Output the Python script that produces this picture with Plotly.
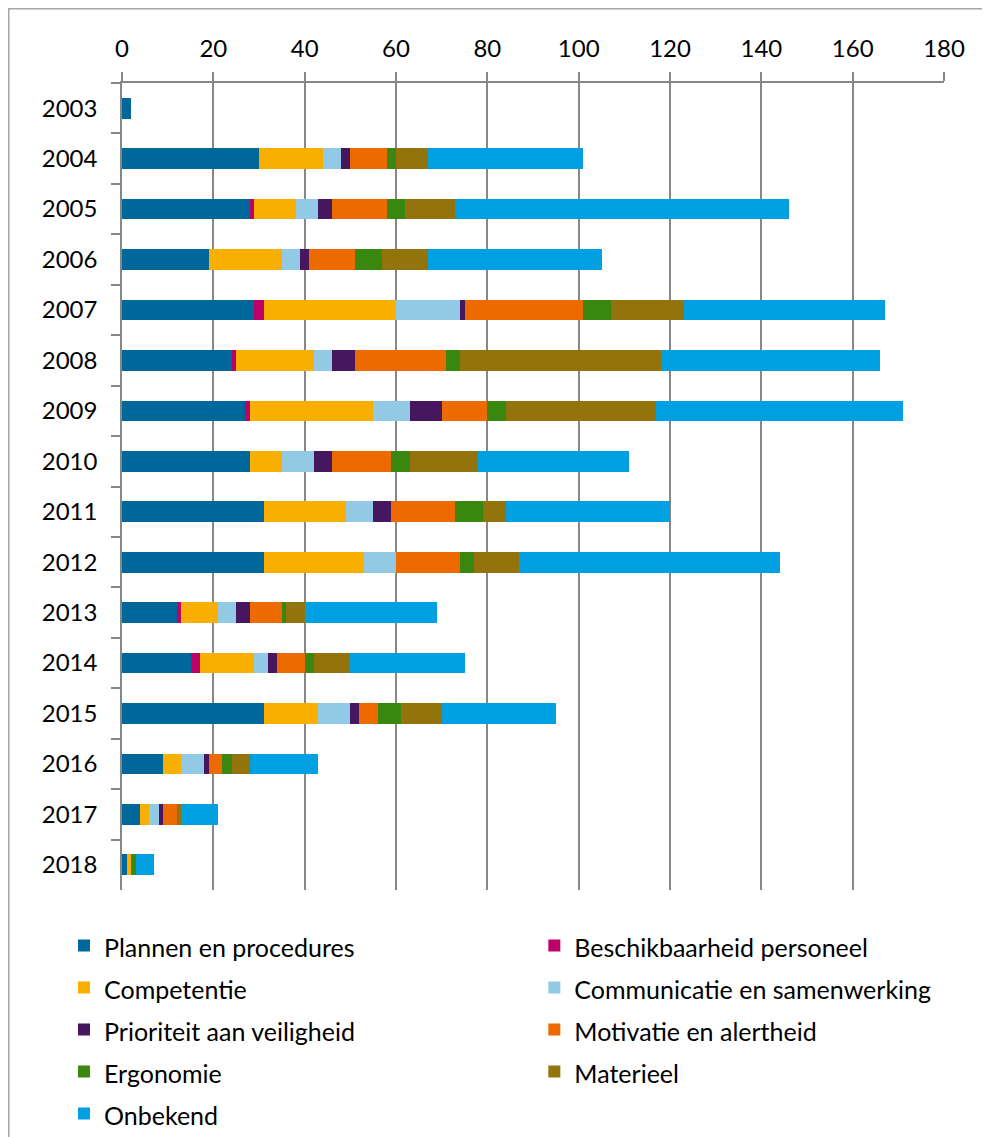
import plotly.graph_objects as go

years = [str(y) for y in range(2003, 2019)]

plannen = [2, 30, 28, 19, 29, 24, 27, 28, 31, 31, 12, 15, 31, 9, 4, 1]
beschikbaarheid = [0, 0, 1, 0, 2, 1, 1, 0, 0, 0, 1, 2, 0, 0, 0, 0]
competentie = [0, 14, 9, 16, 29, 17, 27, 7, 18, 22, 8, 12, 12, 4, 2, 1]
communicatie = [0, 4, 5, 4, 14, 4, 8, 7, 6, 7, 4, 3, 7, 5, 2, 0]
prioriteit = [0, 2, 3, 2, 1, 5, 7, 4, 4, 0, 3, 2, 2, 1, 1, 0]
motivatie = [0, 8, 12, 10, 26, 20, 10, 13, 14, 14, 7, 6, 4, 3, 3, 0]
ergonomie = [0, 2, 4, 6, 6, 3, 4, 4, 6, 3, 1, 2, 5, 2, 0, 1]
materieel = [0, 7, 11, 10, 16, 44, 33, 15, 5, 10, 4, 8, 9, 4, 1, 0]
onbekend = [0, 34, 73, 38, 44, 48, 54, 33, 36, 57, 29, 25, 25, 15, 8, 4]

x_ticks = [0, 20, 40, 60, 80, 100, 120, 140, 160, 180]

series = [
    ("Plannen en procedures", plannen, "#00679A"),
    ("Beschikbaarheid personeel", beschikbaarheid, "#BE0069"),
    ("Competentie", competentie, "#F9AF00"),
    ("Communicatie en samenwerking", communicatie, "#92CAE6"),
    ("Prioriteit aan veiligheid", prioriteit, "#46175E"),
    ("Motivatie en alertheid", motivatie, "#EC6A00"),
    ("Ergonomie", ergonomie, "#3A870F"),
    ("Materieel", materieel, "#93730C"),
    ("Onbekend", onbekend, "#00A0E2"),
]

FONT = "Lato"
OFF = 8  # page body margin offset
W, H = 990, 1137
L = 122 - OFF
T = 83 - OFF
R = W - (944 - OFF)
B = H - (890.5 - OFF)
pw = W - L - R
ph = H - T - B

fig = go.Figure()
for name, vals, col in series:
    fig.add_trace(go.Bar(
        y=years, x=vals, orientation="h",
        name='<span style="font-size:25px">' + name + '</span>',
        marker=dict(color=col, line=dict(width=0)),
    ))

fig.update_layout(
    width=W, height=H,
    margin=dict(l=L, r=R, t=T, b=B, autoexpand=False),
    barmode="stack",
    bargap=0.59,
    plot_bgcolor="white",
    paper_bgcolor="white",
    font=dict(family=FONT, size=24, color="#000000"),
    showlegend=True,
    legend=dict(
        orientation="h",
        entrywidthmode="fraction",
        entrywidth=0.5025,
        x=(56 - L) / pw, xanchor="left",
        y=(H - B - 912) / ph, yanchor="top",
        font=dict(family=FONT, size=30, color="#000000"),
        traceorder="normal",
        bgcolor="rgba(0,0,0,0)",
    ),
    xaxis=dict(
        side="top",
        range=[0, 180],
        tickvals=x_ticks,
        ticktext=[str(v) for v in x_ticks],
        showgrid=True, gridcolor="#878787", gridwidth=1.5,
        showline=True, linecolor="#878787", linewidth=1.5,
        ticks="outside", ticklen=9, tickcolor="#878787", tickwidth=1.5,
        ticklabelstandoff=6,
        zeroline=False,
        tickfont=dict(size=24),
    ),
    yaxis=dict(
        type="category",
        categoryorder="array", categoryarray=years,
        autorange="reversed",
        showline=True, linecolor="#878787", linewidth=1.5,
        ticks="outside", ticklen=9, tickcolor="#878787", tickwidth=1.5,
        tickson="boundaries",
        showgrid=False,
        ticklabelstandoff=18,
        tickfont=dict(size=24),
    ),
    shapes=[dict(
        type="rect", xref="paper", yref="paper",
        x0=(0.75 - L) / pw, x1=(1010 - L) / pw,
        y0=(H - B - 1160) / ph, y1=(H - B - 0.75) / ph,
        line=dict(color="#A6A6A6", width=1.5),
        fillcolor="rgba(0,0,0,0)",
        layer="below",
    )],
)

fig.write_html("out.html")
